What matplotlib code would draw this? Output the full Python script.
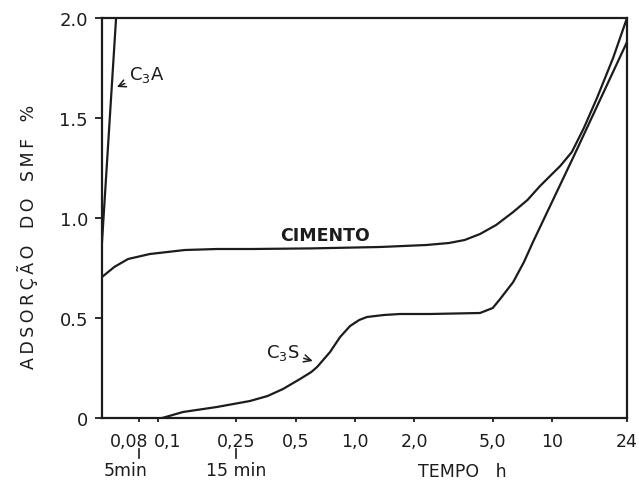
import numpy as np
import matplotlib
matplotlib.use("Agg")
import matplotlib.pyplot as plt
import matplotlib.transforms as mtransforms

# data (time in hours, adsorption in %)
cimento_t = [0.052, 0.06, 0.0705, 0.091, 0.137, 0.2, 0.3, 0.6, 1.34, 2.3,
             3.0, 3.6, 4.31, 5.2, 6.35, 7.5, 8.69, 10.0, 11.0, 12.6, 14.5,
             16.9, 20.4, 24]
cimento_v = [0.705, 0.755, 0.795, 0.82, 0.84, 0.845, 0.845, 0.848, 0.855, 0.865,
             0.875, 0.89, 0.92, 0.965, 1.03, 1.09, 1.16, 1.22, 1.26, 1.33, 1.45,
             1.60, 1.80, 2.0]

c3s_t = [0.105, 0.134, 0.199, 0.293, 0.36, 0.431, 0.526, 0.6, 0.642, 0.747,
         0.84, 0.944, 1.05, 1.15, 1.4, 1.69, 2.4, 4.31, 5.0, 5.45, 6.35, 7.2,
         8.0, 12.9, 24]
c3s_v = [0.0, 0.03, 0.055, 0.085, 0.11, 0.145, 0.195, 0.23, 0.255, 0.33,
         0.405, 0.46, 0.49, 0.505, 0.515, 0.52, 0.52, 0.525, 0.55, 0.595, 0.68,
         0.78, 0.88, 1.31, 1.88]

c3a_t = [0.052, 0.0613]
c3a_v = [0.88, 2.0]

xticks = [0.08, 0.1, 0.25, 0.5, 1.0, 2.0, 5.0, 10, 24]
xticklabels = ["0,08", "0,1", "0,25", "0,5", "1,0", "2,0", "5,0", "10", "24"]
yticks = [0, 0.5, 1.0, 1.5, 2.0]
yticklabels = ["0", "0.5", "1.0", "1.5", "2.0"]

ink = "#1c1c1c"
plt.rcParams["font.family"] = ["DejaVu Sans"]

fig = plt.figure(figsize=(6.39, 4.81), dpi=100)
ax = fig.add_axes([102 / 639, 62 / 481, 525 / 639, 400 / 481])

ax.plot(cimento_t, cimento_v, color=ink, lw=1.6)
ax.plot(c3s_t, c3s_v, color=ink, lw=1.6)
ax.plot(c3a_t, c3a_v, color=ink, lw=1.6)

ax.set_xscale("log")
ax.set_xlim(0.052, 24)
ax.set_ylim(0, 2.0)
ax.set_xticks(xticks)
ax.set_xticklabels(xticklabels)
ax.xaxis.set_minor_locator(matplotlib.ticker.NullLocator())
ax.set_yticks(yticks)
ax.set_yticklabels(yticklabels)
ax.tick_params(axis="x", direction="out", length=3, width=1.3, pad=7,
               labelsize=12.5, colors=ink)
ax.tick_params(axis="y", direction="out", length=5, width=1.3, pad=5,
               labelsize=13, colors=ink)
for s in ax.spines.values():
    s.set_linewidth(1.6)
    s.set_color(ink)

# the two crowded labels sit a little apart in the original
labs = ax.get_xticklabels()
for lab, dx in [(labs[0], -10), (labs[1], 10)]:
    lab.set_transform(lab.get_transform() +
                      mtransforms.ScaledTranslation(dx / 100, 0, fig.dpi_scale_trans))

# curve labels
ax.annotate("C$_3$A", xy=(0.0619, 1.655), xytext=(0.0712, 1.72),
            fontsize=13, color=ink, ha="left", va="center",
            arrowprops=dict(arrowstyle="->", color=ink, lw=1.1,
                            shrinkA=1, shrinkB=0))
ax.text(0.707, 0.915, "CIMENTO", fontsize=12.5, fontweight="bold",
        color=ink, ha="center", va="center")
ax.annotate("C$_3$S", xy=(0.61, 0.285), xytext=(0.43, 0.33),
            fontsize=13, color=ink, ha="center", va="center",
            arrowprops=dict(arrowstyle="->", color=ink, lw=1.1,
                            shrinkA=1, shrinkB=0))

# minute marks below the hour axis
trans = mtransforms.blended_transform_factory(ax.transData, ax.transAxes)
for t, tx, lab in [(0.08, 0.0688, "5min"), (0.25, 0.25, "15 min")]:
    ax.plot([t, t], [-0.078, -0.1], color=ink, lw=1.2, transform=trans,
            clip_on=False)
    ax.text(tx, -0.13, lab, transform=trans, fontsize=12.5, color=ink,
            ha="center", va="center")

fig.text(462 / 639, 1 - 472 / 481, "TEMPO   h", fontsize=12.5, color=ink,
         ha="center", va="center")
fig.text(27 / 639, 1 - 237 / 481,
         "\u2009".join("ADSORÇÃO") + "   D\u2009O   S\u2009M\u2009F   %",
         fontsize=12.5, color=ink, rotation=90, ha="center", va="center")

fig.savefig("out.png", dpi=100, facecolor="white")
